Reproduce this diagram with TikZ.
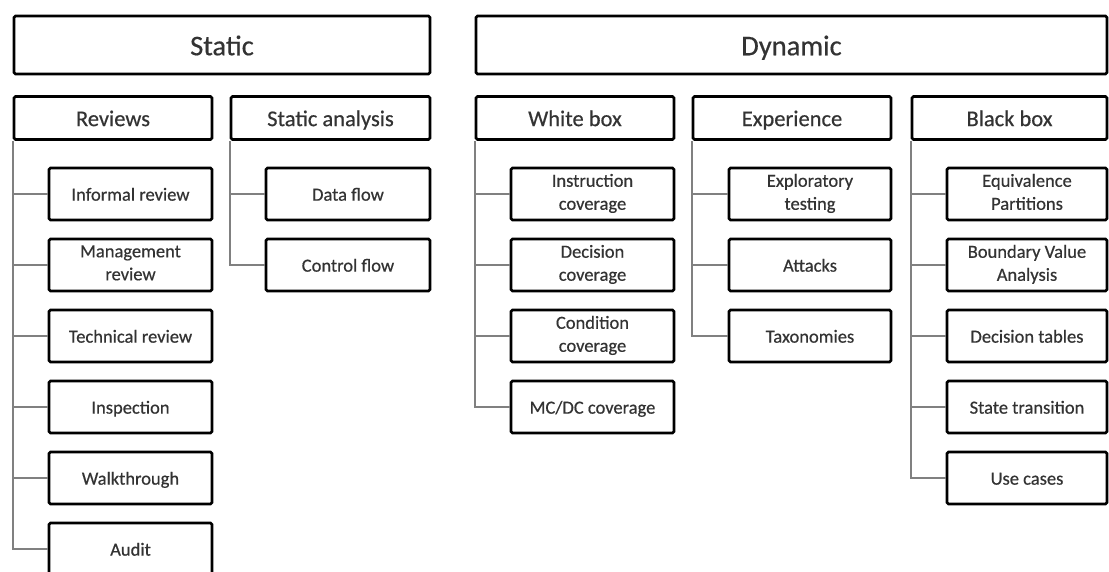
\documentclass[tikz,border=0pt]{standalone}
\usepackage{fontspec}
\setmainfont{Carlito}[FakeBold=0.5]
\definecolor{txtgray}{HTML}{333333}
\definecolor{linkgray}{HTML}{808080}
\newcommand\hiStrut{\rule{0pt}{0.95em}}
\newcommand\loStrut{\rule[-0.23em]{0pt}{0.23em}}
\begin{document}
\begin{tikzpicture}[x=1pt, y=-1pt,
		box/.style={draw=black, line width=2.6pt, rounded corners=1.5pt, fill=white,
			text=txtgray, inner sep=0pt, align=center,
			execute at begin node=\hiStrut, execute at end node=\loStrut},
		top/.style={box, minimum height=58pt, font=\fontsize{28.5}{30}\selectfont},
		head/.style={box, minimum height=43pt, font=\fontsize{22.5}{24}\selectfont},
		leaf/.style={box, minimum height=52pt, font=\fontsize{18.5}{23}\selectfont},
		link/.style={draw=linkgray, line width=1.6pt}]
	\useasboundingbox (0,0) rectangle (1109,572);
	% --- 上层：静态 / 动态 ---
	\node[top, minimum width=416pt] (static) at (222,45) {Static};
	\node[top, minimum width=631pt] (dynamic) at (791.5,45) {Dynamic};

	% --- 第二层 ---
	\node[head, minimum width=198pt] (reviews) at (113,118) {Reviews};
	\node[head, minimum width=199pt] (sanalysis) at (330.5,118) {Static analysis};
	\node[head, minimum width=198pt] (whitebox) at (575,118) {White box};
	\node[head, minimum width=198pt] (experience) at (792,118) {Experience};
	\node[head, minimum width=195pt] (blackbox) at (1009.5,118) {Black box};

	% --- 叶子节点：Reviews ---
	\foreach \name/\txt [count=\i] in {informal/Informal review,
			management/{Management\\review}, technical/Technical review,
			inspection/Inspection, walkthrough/Walkthrough, audit/Audit} {
		\node[leaf, minimum width=163pt] (\name) at (130.5,123+71*\i) {\txt};
		\draw[link] (reviews.south west) |- (\name.west);
	}

	% --- 叶子节点：Static analysis ---
	\foreach \name/\txt [count=\i] in {dataflow/Data flow, controlflow/Control flow} {
		\node[leaf, minimum width=164pt] (\name) at (348,123+71*\i) {\txt};
		\draw[link] (sanalysis.south west) |- (\name.west);
	}

	% --- 叶子节点：White box ---
	\foreach \name/\txt [count=\i] in {instruction/{Instruction\\coverage},
			decision/{Decision\\coverage}, condition/{Condition\\coverage},
			mcdc/{MC/DC coverage}} {
		\node[leaf, minimum width=163pt] (\name) at (592.5,123+71*\i) {\txt};
		\draw[link] (whitebox.south west) |- (\name.west);
	}

	% --- 叶子节点：Experience ---
	\foreach \name/\txt [count=\i] in {exploratory/{Exploratory\\testing},
			attacks/Attacks, taxonomies/Taxonomies} {
		\node[leaf, minimum width=162pt] (\name) at (810,123+71*\i) {\txt};
		\draw[link] (experience.south west) |- (\name.west);
	}

	% --- 叶子节点：Black box ---
	\foreach \name/\txt [count=\i] in {equivalence/{Equivalence\\Partitions},
			boundary/{Boundary Value\\Analysis}, dectables/Decision tables,
			statetrans/State transition, usecases/Use cases} {
		\node[leaf, minimum width=160pt] (\name) at (1027,123+71*\i) {\txt};
		\draw[link] (blackbox.south west) |- (\name.west);
	}
\end{tikzpicture}
\end{document}
